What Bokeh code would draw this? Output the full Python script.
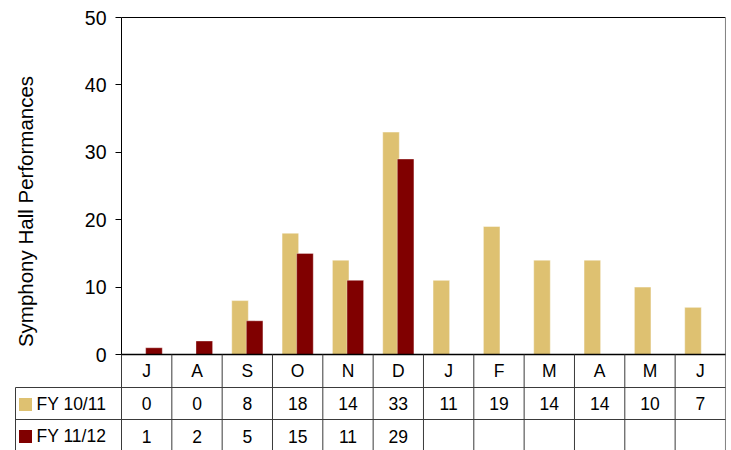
import math
from bokeh.plotting import figure
from bokeh.models import Range1d, FixedTicker, LinearAxis, ColumnDataSource
from bokeh.core.properties import value
from bokeh.embed import file_html
from bokeh.resources import INLINE

# ---- data ----
months = ["J", "A", "S", "O", "N", "D", "J", "F", "M", "A", "M", "J"]
fy1011 = [0, 0, 8, 18, 14, 33, 11, 19, 14, 14, 10, 7]
fy1112 = [1, 2, 5, 15, 11, 29]
series_names = ["FY 10/11", "FY 11/12"]
y_ticks = [0, 10, 20, 30, 40, 50]
y_max = 50
y_label = "Symphony Hall Performances"

GOLD = "#DEC171"
RED = "#800000"
FONT = "Liberation Sans"

# ---- layout constants (pixels inside the figure) ----
W, H = 731, 450
X0_PX = 121          # x of category axis start
PPU = 50.33          # pixels per category
Y50_PX, Y0_PX = 17, 354
PPY = (Y0_PX - Y50_PX) / y_max
n = len(months)


def dx(px):
    return (px - X0_PX) / PPU


def dy(px):
    return (Y0_PX - px) / PPY


p = figure(width=W, height=H, output_backend="svg", toolbar_location=None,
           x_range=Range1d(dx(0), dx(W)), y_range=Range1d(dy(H), dy(0)),
           x_axis_location=None, y_axis_location=None,
           min_border_left=0, min_border_right=0, min_border_top=0, min_border_bottom=0)
p.outline_line_color = None
p.xgrid.visible = False
p.ygrid.visible = False
p.background_fill_color = "white"
p.border_fill_color = "white"

# ---- bars ----
xc = [i + 0.5 for i in range(n)]
src_a = ColumnDataSource(dict(x=[c - 0.145 for c in xc], top=fy1011))
src_b = ColumnDataSource(dict(x=[c + 0.145 for c in xc[:len(fy1112)]], top=fy1112))
p.vbar(x="x", top="top", width=0.33, bottom=0, source=src_a,
       fill_color=GOLD, line_color="white", line_alpha=0.45, line_width=1)
p.vbar(x="x", top="top", width=0.33, bottom=0, source=src_b,
       fill_color=RED, line_color="white", line_alpha=0.35, line_width=1)

# ---- y axis ----
yax = LinearAxis(fixed_location=0, bounds=(0, y_max), ticker=FixedTicker(ticks=y_ticks))
yax.minor_tick_line_color = None
yax.major_tick_in = 0
yax.major_tick_out = 6
yax.major_tick_line_color = "black"
yax.axis_line_color = "black"
yax.major_label_text_font = FONT
yax.major_label_text_font_size = "19.5px"
yax.major_label_text_color = "black"
yax.major_label_standoff = 9
p.add_layout(yax, "left")

p.text(x=[dx(25)], y=[dy(211)], text=[y_label], angle=math.pi / 2,
       text_align="center", text_baseline="middle",
       text_font=value(FONT), text_font_size=value("20.5px"), text_color="black")

# ---- plot area border ----
p.segment(x0=[0], y0=[y_max], x1=[n], y1=[y_max], line_color="black", line_width=1)
p.segment(x0=[n], y0=[dy(H)], x1=[n], y1=[y_max], line_color="#808080", line_width=1)
p.segment(x0=[0], y0=[0], x1=[n], y1=[0], line_color="black", line_width=1.5)

# ---- data table ----
r1 = dy(387)
r2 = dy(419)
xl = dx(15)
LC = "#3a3a3a"
vx = list(range(n))
p.segment(x0=vx, y0=[0] * n, x1=vx, y1=[dy(H)] * n, line_color=LC, line_width=1)
p.segment(x0=[xl, xl], y0=[r1, r2], x1=[n, n], y1=[r1, r2], line_color=LC, line_width=1)
p.segment(x0=[xl], y0=[r1], x1=[xl], y1=[dy(H)], line_color=LC, line_width=1)

fs = value("17.5px")
ty_m = dy(370.5)
ty_a = dy(403)
ty_b = dy(435.5)
p.text(x=xc, y=[ty_m] * n, text=months, text_align="center",
       text_baseline="middle", text_font=value(FONT), text_font_size=fs, text_color="black")
p.text(x=xc, y=[ty_a] * n, text=[str(v) for v in fy1011], text_align="center",
       text_baseline="middle", text_font=value(FONT), text_font_size=fs, text_color="black")
p.text(x=xc[:len(fy1112)], y=[ty_b] * len(fy1112), text=[str(v) for v in fy1112],
       text_align="center", text_baseline="middle", text_font=value(FONT),
       text_font_size=fs, text_color="black")

p.scatter(x=[dx(25)] * 2, y=[dy(404), dy(436)], marker="square", size=13,
          fill_color=[GOLD, RED], line_color=None)
p.text(x=[dx(36)] * 2, y=[ty_a, ty_b], text=series_names,
       text_align="left", text_baseline="middle", text_font=value(FONT),
       text_font_size=fs, text_color="black")

open("out.html", "w").write(file_html(p, INLINE))
